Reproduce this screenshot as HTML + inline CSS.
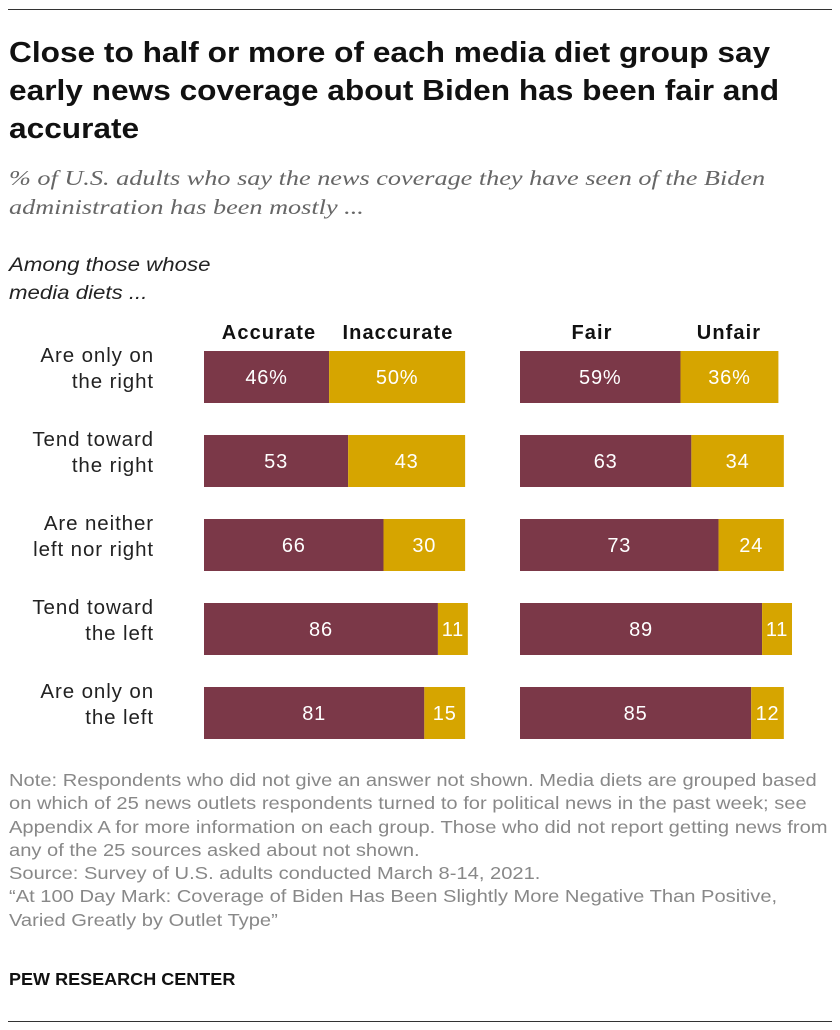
<!DOCTYPE html>
<html><head><meta charset="utf-8"><style>
body{margin:0;width:840px;height:1030px;background:#fff;font-family:"Liberation Sans",sans-serif;position:relative;overflow:hidden}
.t{position:absolute;margin:0;white-space:nowrap;transform-origin:0 0}
</style></head><body>
<div style="position:absolute;left:8px;top:9px;width:824px;height:1px;background:#333"></div>
<div class="t" style="left:9px;top:34px;font-size:28.5px;font-weight:bold;line-height:38px;color:#111;transform:scaleX(1.11)">Close to half or more of each media diet group say<br>early news coverage about Biden has been fair and<br>accurate</div>
<div class="t" style="left:9px;top:164px;font-family:'Liberation Serif',serif;font-style:italic;font-size:21.5px;line-height:29px;color:#666;transform:scaleX(1.22)">% of U.S. adults who say the news coverage they have seen of the Biden<br>administration has been mostly ...</div>
<div class="t" style="left:9px;top:251px;font-style:italic;font-size:19.5px;line-height:28px;color:#222;transform:scaleX(1.14)">Among those whose<br>media diets ...</div>
<svg id="c" style="position:absolute;left:0;top:0" width="840" height="760"></svg>
<div class="t" style="left:9px;top:769px;font-size:17.5px;line-height:23.3px;color:#888;transform:scaleX(1.15)">Note: Respondents who did not give an answer not shown. Media diets are grouped based<br>on which of 25 news outlets respondents turned to for political news in the past week; see<br>Appendix A for more information on each group. Those who did not report getting news from<br>any of the 25 sources asked about not shown.<br>Source: Survey of U.S. adults conducted March 8-14, 2021.<br>“At 100 Day Mark: Coverage of Biden Has Been Slightly More Negative Than Positive,<br>Varied Greatly by Outlet Type”</div>
<div class="t" style="left:9px;top:969px;font-size:17.5px;font-weight:bold;color:#111;transform:scaleX(1.03)">PEW RESEARCH CENTER</div>
<div style="position:absolute;left:8px;top:1021px;width:824px;height:1px;background:#333"></div>
<script>
const categories=[["Are only on","the right"],["Tend toward","the right"],["Are neither","left nor right"],["Tend toward","the left"],["Are only on","the left"]];
const accurate=[46,53,66,86,81];
const inaccurate=[50,43,30,11,15];
const fair=[59,63,73,89,85];
const unfair=[36,34,24,11,12];
const svg=document.getElementById('c');const NS='http://www.w3.org/2000/svg';
const k=2.72,rowY=i=>351+84*i,H=52;
function el(t,a,txt){const e=document.createElementNS(NS,t);for(const n in a)e.setAttribute(n,a[n]);if(txt!=null)e.textContent=txt;svg.appendChild(e);return e;}
function hdr(x,s){const e=el('text',{x:x,y:339,'text-anchor':'middle','font-size':20,'font-weight':'bold','letter-spacing':1.1,fill:'#111'},s);

}
hdr(269,'Accurate');hdr(398,'Inaccurate');hdr(592,'Fair');hdr(729,'Unfair');
function panel(x0,a,b,na,nb){a.forEach((v,i)=>{const y=rowY(i);const w1=v*k,w2=b[i]*k;
const r1=el('rect',{x:x0,y:y,width:w1,height:H,fill:'#7b3848'});


const r2=el('rect',{x:x0+w1,y:y,width:w2,height:H,fill:'#d6a500'});


const s=i==0?'%':'';
const t1=el('text',{x:x0+w1/2,y:y+33,'text-anchor':'middle','font-size':20,'letter-spacing':0.8,fill:'#fff'},v+s);


const t2=el('text',{x:x0+w1+w2/2,y:y+33,'text-anchor':'middle','font-size':20,'letter-spacing':0.8,fill:'#fff'},b[i]+s);

});}
panel(204,accurate,inaccurate,'accurate','inaccurate');
panel(520,fair,unfair,'fair','unfair');
categories.forEach((c,i)=>{const y=rowY(i);
const t=el('text',{x:154,y:y+11,'text-anchor':'end','font-size':20.5,'letter-spacing':0.9,fill:'#222'});


c.forEach((l,j)=>{const ts=document.createElementNS(NS,'tspan');ts.setAttribute('x',154);ts.setAttribute('dy',j?26:0);ts.textContent=l;t.appendChild(ts);});});
</script>
</body></html>
